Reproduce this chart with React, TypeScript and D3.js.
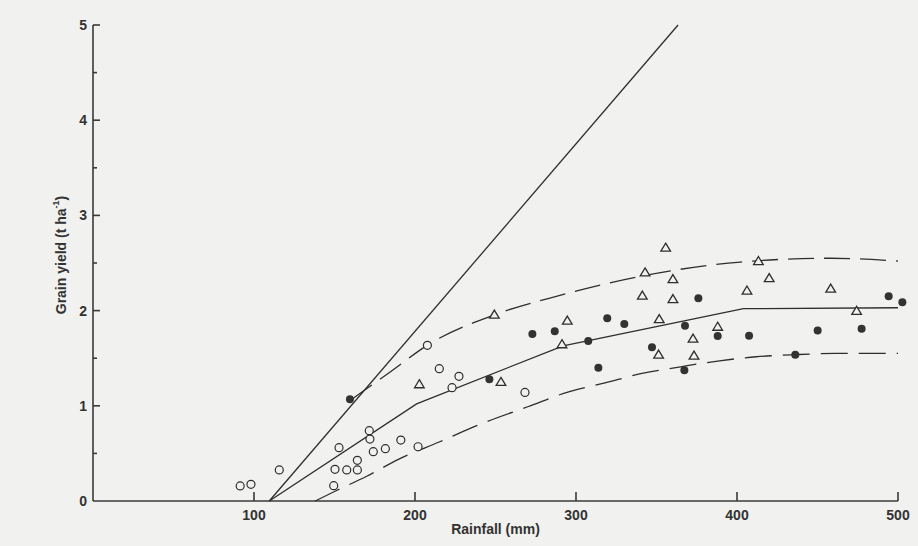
import React from "react";
import * as d3 from "d3";

// ---- Data ----
const xTicks = [100, 200, 300, 400, 500];
const yTicks = [0, 1, 2, 3, 4, 5];
const yMinorTicks = [0.5, 1.5, 2.5, 3.5, 4.5];

// open circles [rainfall, yield]
const openCircles: [number, number][] = [
  [91.4, 0.158], [98.1, 0.175], [115.7, 0.326], [152.8, 0.56], [150.3, 0.333],
  [157.6, 0.326], [164.2, 0.326], [164.2, 0.427], [149.5, 0.161], [171.6, 0.739],
  [172, 0.65], [174.1, 0.518], [181.6, 0.55], [191.2, 0.64], [201.9, 0.57],
  [207.7, 1.635], [215.1, 1.39], [227.3, 1.31], [223, 1.19], [268.3, 1.14],
];

// filled circles
const filledCircles: [number, number][] = [
  [159.6, 1.068], [246.2, 1.278], [272.9, 1.754], [286.8, 1.782], [376, 2.13],
  [319.4, 1.92], [330, 1.86], [307.6, 1.68], [367.7, 1.84], [388, 1.733],
  [347.2, 1.614], [313.9, 1.4], [367.3, 1.373], [494.2, 2.15], [502.7, 2.087],
  [407.5, 1.737], [450.1, 1.79], [477.4, 1.81], [436.2, 1.537],
];

// open triangles
const triangles: [number, number][] = [
  [202.7, 1.226], [249.3, 1.957], [253.4, 1.25], [294.6, 1.894], [291.3, 1.646],
  [355.7, 2.66], [342.9, 2.4], [360.2, 2.33], [341.2, 2.157], [360.2, 2.12],
  [351.7, 1.91], [388, 1.83], [372.7, 1.705], [351.3, 1.537], [373.3, 1.526],
  [413.3, 2.52], [420, 2.34], [406.2, 2.21], [458.2, 2.23], [474.3, 1.996],
];

// solid straight line (potential)
const potentialLine: [number, number][] = [[109.5, 0], [363.4, 5]];
// middle solid piecewise line
const meanLine: [number, number][] = [[109.5, 0], [201, 1.02], [292, 1.63], [404, 2.02], [500, 2.03]];
// upper dashed curve
const upperLine: [number, number][] = [
  [160, 1.06], [185, 1.36], [208, 1.64], [250, 1.96], [290, 2.16], [343, 2.37],
  [402, 2.51], [458, 2.55], [500, 2.52],
];
// lower dashed curve
const lowerLine: [number, number][] = [
  [138, 0], [150, 0.1], [170, 0.26], [190, 0.44], [215, 0.62], [241, 0.81],
  [270, 0.99], [296, 1.15], [318, 1.24], [341, 1.34], [365, 1.41], [388, 1.47],
  [412, 1.515], [436, 1.537], [461, 1.55], [500, 1.55],
];

const W = 918;
const H = 546;

export default function App() {
  const x = d3.scaleLinear().domain([0, 500]).range([93, 898]);
  const y = d3.scaleLinear().domain([0, 5]).range([501, 25]);

  const straight = d3.line<[number, number]>().x((d) => x(d[0])).y((d) => y(d[1]));
  const smooth = d3
    .line<[number, number]>()
    .x((d) => x(d[0]))
    .y((d) => y(d[1]))
    .curve(d3.curveMonotoneX);

  const ink = "#2e2e2e";
  const bg = "#f1f1ef";
  const font = "'Liberation Sans', Arial, Helvetica, sans-serif";

  const tri = (cx: number, cy: number) => {
    const s = 4.6;
    return `M${cx},${cy - s}L${cx + s * 1.05},${cy + s * 0.75}L${cx - s * 1.05},${cy + s * 0.75}Z`;
  };

  return (
    <svg
      width={W}
      height={H}
      style={{ position: "fixed", left: 0, top: 0, display: "block" }}
      xmlns="http://www.w3.org/2000/svg"
    >
      <rect x={0} y={0} width={W} height={H} fill={bg} />

      {/* axes */}
      <g stroke="#3a3a3a" strokeWidth={1.6} fill="none">
        <line x1={x(0)} y1={y(0)} x2={x(500)} y2={y(0)} />
        <line x1={x(0)} y1={y(0)} x2={x(0)} y2={y(5)} />
        {yTicks.slice(1).map((t) => (
          <line key={"yt" + t} x1={x(0)} x2={x(0) + 7} y1={y(t)} y2={y(t)} />
        ))}
        {yMinorTicks.map((t) => (
          <line key={"ym" + t} x1={x(0)} x2={x(0) + 4} y1={y(t)} y2={y(t)} />
        ))}
        {xTicks.map((t) => (
          <line key={"xt" + t} x1={x(t)} x2={x(t)} y1={y(0)} y2={y(0) - 9} />
        ))}
      </g>

      {/* tick labels */}
      <g fill="#333" fontFamily={font} fontWeight="bold" fontSize={14}>
        {yTicks.map((t) => (
          <text key={"yl" + t} x={x(0) - 6} y={y(t)} textAnchor="end" dominantBaseline="central">
            {t}
          </text>
        ))}
        {xTicks.map((t) => (
          <text key={"xl" + t} x={x(t)} y={y(0) + 14} textAnchor="middle" dominantBaseline="central">
            {t}
          </text>
        ))}
        <text x={x(250)} y={y(0) + 28} textAnchor="middle" dominantBaseline="central" fontSize={14}>
          Rainfall (mm)
        </text>
        <text
          transform={`translate(61, 255) rotate(-90)`}
          textAnchor="middle"
          dominantBaseline="central"
          fontSize={14}
        >
          Grain yield (t ha
          <tspan fontSize={9} dy={-5}>-1</tspan>
          <tspan dy={5}>)</tspan>
        </text>
      </g>

      {/* lines */}
      <g fill="none" stroke={ink} strokeWidth={1.3}>
        <path d={straight(potentialLine) || ""} />
        <path d={straight(meanLine) || ""} />
        <path d={smooth(upperLine) || ""} strokeDasharray="26 10" />
        <path d={smooth(lowerLine) || ""} strokeDasharray="27 11" />
      </g>

      {/* markers */}
      <g fill="none" stroke={ink} strokeWidth={1.2}>
        {openCircles.map((d, i) => (
          <circle key={"oc" + i} cx={x(d[0])} cy={y(d[1])} r={4} fill={bg} />
        ))}
        {triangles.map((d, i) => (
          <path key={"tr" + i} d={tri(x(d[0]), y(d[1]))} fill={bg} strokeWidth={1.3} />
        ))}
      </g>
      <g fill="#333">
        {filledCircles.map((d, i) => (
          <circle key={"fc" + i} cx={x(d[0])} cy={y(d[1])} r={4} />
        ))}
      </g>
    </svg>
  );
}
